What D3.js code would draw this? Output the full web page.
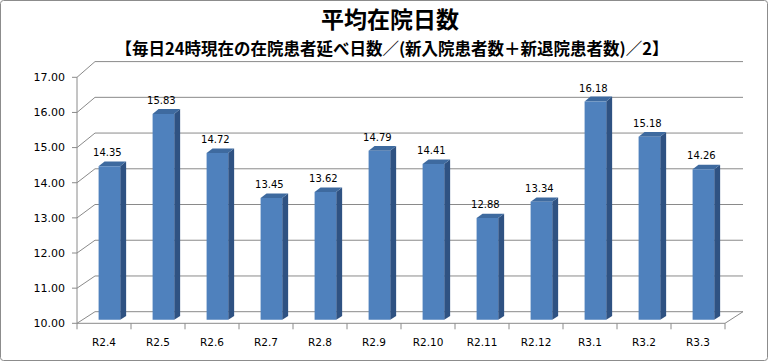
<!DOCTYPE html>
<html>
<head>
<meta charset="utf-8">
<script src="https://cdn.jsdelivr.net/npm/d3@7/dist/d3.min.js"></script>
<style>
  body { margin: 0; background: #fff; }
  svg { display: block; }
</style>
</head>
<body>
<div id="chart"></div>
<script>
// data
var months = ["R2.4", "R2.5", "R2.6", "R2.7", "R2.8", "R2.9", "R2.10", "R2.11", "R2.12", "R3.1", "R3.2", "R3.3"];
var avgStay = [14.35, 15.83, 14.72, 13.45, 13.62, 14.79, 14.41, 12.88, 13.34, 16.18, 15.18, 14.26];
var yTicks = [10, 11, 12, 13, 14, 15, 16, 17];
var chartTitle = "平均在院日数";
var chartSubtitle = "【毎日24時現在の在院患者延べ日数／(新入院患者数＋新退院患者数)／2】";

var W = 769, H = 362;
var depthX = 18; // horizontal shift front -> back wall

var svg = d3.select("#chart").append("svg")
    .attr("width", W)
    .attr("height", H);

// outer frame
svg.append("rect")
    .attr("x", 0.5).attr("y", 0.5)
    .attr("width", W - 2).attr("height", H - 2)
    .attr("rx", 3)
    .attr("fill", "#fff")
    .attr("stroke", "#8c8c8c");

// scales: front plane and back wall (slight perspective)
var x = d3.scaleBand()
    .domain(months)
    .range([77, 725])
    .paddingInner(0.6)
    .paddingOuter(0.3);

var yFront = d3.scaleLinear().domain([10, 17]).range([323.3, 77.3]);
var yBack = d3.scaleLinear().domain([10, 17]).range([311.7, 61.6]);

// project a point at depth t (0 = front, 1 = back)
function px(xv, t) { return xv + depthX * t; }
function py(v, t) { return yFront(v) + (yBack(v) - yFront(v)) * t; }

var grid = svg.append("g").attr("class", "grid");

// back wall gridlines + side wall diagonals
grid.selectAll("line.back")
    .data(yTicks)
    .enter().append("line")
    .attr("x1", px(77, 1)).attr("x2", px(725, 1))
    .attr("y1", function(d) { return yBack(d); })
    .attr("y2", function(d) { return yBack(d); })
    .attr("stroke", "#8a8a8a");

grid.selectAll("line.side")
    .data(yTicks)
    .enter().append("line")
    .attr("x1", 77).attr("x2", px(77, 1))
    .attr("y1", function(d) { return yFront(d); })
    .attr("y2", function(d) { return yBack(d); })
    .attr("stroke", "#8a8a8a");

// floor right edge
grid.append("line")
    .attr("x1", 725).attr("y1", yFront(10))
    .attr("x2", px(725, 1)).attr("y2", yBack(10))
    .attr("stroke", "#8a8a8a");

// bars
var t0 = 0.3, t1 = 0.63;
var bars = svg.append("g").attr("class", "bars")
    .selectAll("g")
    .data(months.map(function(m, i) { return { m: m, v: avgStay[i] }; }))
    .enter().append("g");

function poly(pts) {
    return "M" + pts.map(function(p) { return p[0] + "," + p[1]; }).join("L") + "Z";
}

// side face
bars.append("path")
    .attr("d", function(d) {
        var xr = x(d.m) + x.bandwidth();
        return poly([
            [px(xr, t0), py(d.v, t0)], [px(xr, t1), py(d.v, t1)],
            [px(xr, t1), py(10, t1)], [px(xr, t0), py(10, t0)]
        ]);
    })
    .attr("fill", "#2f5282");

// top face
bars.append("path")
    .attr("d", function(d) {
        var xl = x(d.m), xr = xl + x.bandwidth();
        return poly([
            [px(xl, t0), py(d.v, t0)], [px(xr, t0), py(d.v, t0)],
            [px(xr, t1), py(d.v, t1)], [px(xl, t1), py(d.v, t1)]
        ]);
    })
    .attr("fill", "#3e6a9f");

// front face
bars.append("path")
    .attr("d", function(d) {
        var xl = x(d.m), xr = xl + x.bandwidth();
        return poly([
            [px(xl, t0), py(d.v, t0)], [px(xr, t0), py(d.v, t0)],
            [px(xr, t0), py(10, t0)], [px(xl, t0), py(10, t0)]
        ]);
    })
    .attr("fill", "#4f81bd");

// value labels
bars.append("text")
    .attr("x", function(d) { return px(x(d.m) + x.bandwidth() / 2, t0) - 2; })
    .attr("y", function(d) { return py(d.v, t0) - 10; })
    .attr("text-anchor", "middle")
    .attr("font-family", "DejaVu Sans, sans-serif")
    .attr("font-size", "10px")
    .attr("fill", "#000")
    .text(function(d) { return d.v.toFixed(2); });

// value axis (front left edge)
var yAxis = svg.append("g").attr("class", "y-axis");
yAxis.append("line")
    .attr("x1", 77).attr("x2", 77)
    .attr("y1", yFront(17)).attr("y2", yFront(10))
    .attr("stroke", "#8a8a8a");
yAxis.selectAll("line.tick")
    .data(yTicks)
    .enter().append("line")
    .attr("x1", 72).attr("x2", 77)
    .attr("y1", function(d) { return yFront(d); })
    .attr("y2", function(d) { return yFront(d); })
    .attr("stroke", "#8a8a8a");
yAxis.selectAll("text")
    .data(yTicks)
    .enter().append("text")
    .attr("x", 65)
    .attr("y", function(d) { return yFront(d); })
    .attr("dy", "0.35em")
    .attr("text-anchor", "end")
    .attr("font-family", "DejaVu Sans, sans-serif")
    .attr("font-size", "11px")
    .attr("fill", "#000")
    .text(function(d) { return d.toFixed(2); });

// category axis (front floor edge)
var xAxis = svg.append("g")
    .attr("transform", "translate(0," + yFront(10) + ")")
    .call(d3.axisBottom(x).tickSize(0).tickPadding(15));
xAxis.select(".domain").remove();
xAxis.selectAll("text")
    .attr("font-family", "DejaVu Sans, sans-serif")
    .attr("font-size", "10.5px")
    .attr("fill", "#000");
xAxis.append("line")
    .attr("x1", 77).attr("x2", 725)
    .attr("stroke", "#8a8a8a");
xAxis.selectAll("line.ctick")
    .data(d3.range(months.length + 1))
    .enter().append("line")
    .attr("x1", function(i) { return 77 + i * x.step(); })
    .attr("x2", function(i) { return 77 + i * x.step(); })
    .attr("y1", 0).attr("y2", 6)
    .attr("stroke", "#8a8a8a");

// titles
svg.append("text")
    .attr("x", 390).attr("y", 28)
    .attr("text-anchor", "middle")
    .attr("font-family", "Noto Sans CJK JP, sans-serif")
    .attr("font-weight", "bold")
    .attr("font-size", "23px")
    .text(chartTitle);

svg.append("text")
    .attr("x", 392).attr("y", 55)
    .attr("text-anchor", "middle")
    .attr("font-family", "Noto Sans CJK JP, sans-serif")
    .attr("font-weight", "bold")
    .attr("font-size", "16.5px")
    .text(chartSubtitle);
</script>
</body>
</html>
